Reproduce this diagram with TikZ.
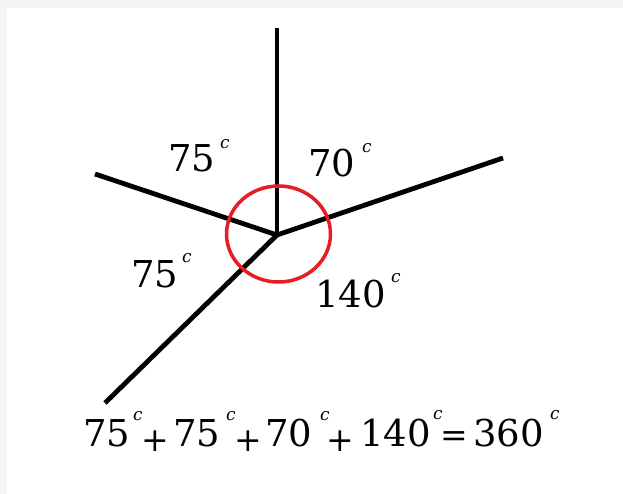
\documentclass[tikz,border=0pt]{standalone}
\usepackage{fontspec}
\setmainfont{DejaVu Serif}
\begin{document}
\begin{tikzpicture}[x=1pt,y=-1pt,
  num/.style={inner sep=0pt,anchor=base west,font=\fontsize{37}{37}\selectfont},
  op/.style={inner sep=0pt,anchor=center,font=\fontsize{33}{33}\selectfont},
  sup/.style={inner sep=0pt,anchor=center,font=\fontsize{17}{17}\selectfont\itshape},
  ray/.style={line width=4.8pt,black},
  ring/.style={line width=3.5pt,draw={rgb,255:red,232;green,28;blue,36}}]
\useasboundingbox (0,0) rectangle (623,494);
\fill[gray!8] (0,0) rectangle (623,494);
\fill[white] (7,8) rectangle (623,494);
% rays
\coordinate (O) at (277,235);
\coordinate (U) at (277,28);
\coordinate (L) at (95,174);
\coordinate (R) at (503,158);
\coordinate (D) at (105,403);
\draw[ray] (O) -- (U);
\draw[ray] (O) -- (L);
\draw[ray] (O) -- (R);
\draw[ray] (O) -- (D);
% red circle
\draw[ring] (278.5,234) ellipse [x radius=52, y radius=48];
% angle labels
\node[num] (a1) at (168,172) {75};
\node[sup] (a1c) at (225,144) {c};
\node[num] (a2) at (308,177) {70};
\node[sup] (a2c) at (367,148) {c};
\node[num] (a3) at (131,287) {75};
\node[sup] (a3c) at (187,258) {c};
\node[num] (a4) at (315,307) {140};
\node[sup] (a4c) at (396,278) {c};
% equation
\node[num] (e1) at (83,446) {75};
\node[sup] (e1c) at (138,416) {c};
\node[op] (p1) at (155,441) {+};
\node[num] (e2) at (173,446) {75};
\node[sup] (e2c) at (231,416) {c};
\node[op] (p2) at (248,441) {+};
\node[num] (e3) at (265,446) {70};
\node[sup] (e3c) at (325,416) {c};
\node[op] (p3) at (340,441) {+};
\node[num] (e4) at (360,446) {140};
\node[sup] (e4c) at (438,415) {c};
\node[op] (eq) at (454,439) {=};
\node[num] (e5) at (473,446) {360};
\node[sup] (e5c) at (555,415) {c};
\end{tikzpicture}
\end{document}
